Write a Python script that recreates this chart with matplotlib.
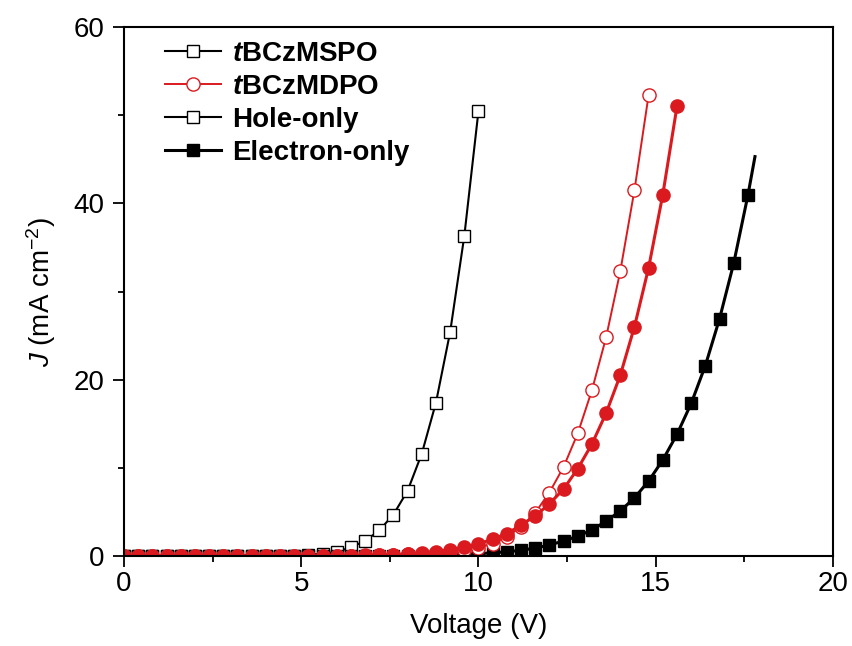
import numpy as np
import matplotlib.pyplot as plt
from matplotlib.lines import Line2D
from matplotlib.ticker import MultipleLocator

plt.rcParams['font.family'] = ['Liberation Sans', 'DejaVu Sans']
plt.rcParams['mathtext.fontset'] = 'custom'
plt.rcParams['mathtext.rm'] = 'Liberation Sans'
plt.rcParams['mathtext.it'] = 'Liberation Sans:italic'
plt.rcParams['mathtext.bf'] = 'Liberation Sans:italic:bold'

# voltage grid (V), markers every 0.4 V
volt = [0.0, 0.4, 0.8, 1.2, 1.6, 2.0, 2.4, 2.8, 3.2, 3.6, 4.0, 4.4, 4.8, 5.2, 5.6,
        6.0, 6.4, 6.8, 7.2, 7.6, 8.0, 8.4, 8.8, 9.2, 9.6, 10.0, 10.4, 10.8, 11.2,
        11.6, 12.0, 12.4, 12.8, 13.2, 13.6, 14.0, 14.4, 14.8, 15.2, 15.6, 16.0,
        16.4, 16.8, 17.2, 17.6, 17.8]

# tBCzMSPO hole-only (open black squares), 0 - 10.0 V
j_mspo_hole = [0, 0, 0, 0, 0, 0, 0, 0, 0.01, 0.01, 0.02, 0.03, 0.05, 0.12, 0.25,
               0.45, 1.0, 1.7, 2.9, 4.7, 7.4, 11.6, 17.4, 25.4, 36.3, 50.5]

# tBCzMSPO electron-only (filled black squares), 0 - 17.8 V
j_mspo_elec = [0, 0, 0, 0, 0, 0, 0, 0, 0, 0, 0, 0, 0, 0, 0.01,
               0.01, 0.02, 0.02, 0.03, 0.03, 0.04, 0.05, 0.08, 0.12, 0.18, 0.27,
               0.36, 0.48, 0.65, 0.9, 1.25, 1.7, 2.25, 2.95, 3.95, 5.1, 6.6,
               8.5, 10.9, 13.8, 17.3, 21.6, 26.9, 33.2, 40.9, 45.3]

# tBCzMDPO hole-only (open red circles), 0 - 14.8 V
j_mdpo_hole = [0, 0, 0, 0, 0, 0, 0, 0, 0, 0, 0, 0, 0.01, 0.01, 0.01,
               0.01, 0.02, 0.05, 0.08, 0.12, 0.18, 0.26, 0.37, 0.5, 0.7, 0.95,
               1.4, 2.2, 3.3, 4.9, 7.2, 10.1, 13.9, 18.8, 24.8, 32.3, 41.5, 52.3]

# tBCzMDPO electron-only (filled red circles), 0 - 15.6 V
j_mdpo_elec = [0, 0, 0, 0, 0, 0, 0, 0, 0, 0, 0, 0, 0.01, 0.01, 0.02,
               0.03, 0.05, 0.08, 0.12, 0.17, 0.23, 0.35, 0.5, 0.72, 1.0, 1.4,
               1.9, 2.55, 3.5, 4.55, 5.9, 7.6, 9.9, 12.7, 16.2, 20.5, 26.0,
               32.7, 41.0, 51.0]

red = '#da1a1f'

fig = plt.figure(figsize=(8.53, 6.46), dpi=100)
ax = fig.add_axes([0.1454, 0.1393, 0.8311, 0.8189])

n1 = len(j_mspo_hole)
ax.plot(volt[:n1], j_mspo_hole, color='k', lw=1.5, marker='s', ms=8,
        mfc='white', mec='k', mew=1.0)
n2 = len(j_mspo_elec)
ax.plot(volt[:n2], j_mspo_elec, color='k', lw=2.2, marker='s', ms=8,
        mfc='k', mec='k', markevery=list(range(n2 - 1)))
n3 = len(j_mdpo_hole)
ax.plot(volt[:n3], j_mdpo_hole, color=red, lw=1.4, marker='o', ms=9.5,
        mfc='white', mec=red, mew=1.0)
n4 = len(j_mdpo_elec)
ax.plot(volt[:n4], j_mdpo_elec, color=red, lw=2.2, marker='o', ms=9.5,
        mfc=red, mec=red)

ax.set_xlim(0, 20)
ax.set_ylim(0, 60)
ax.xaxis.set_major_locator(MultipleLocator(5))
ax.xaxis.set_minor_locator(MultipleLocator(2.5))
ax.yaxis.set_major_locator(MultipleLocator(20))
ax.yaxis.set_minor_locator(MultipleLocator(10))
ax.tick_params(which='both', direction='out', top=False, right=False, width=1.3)
ax.tick_params(which='major', length=8, labelsize=20)
ax.tick_params(axis='y', which='major', pad=6)
ax.tick_params(axis='x', which='major', pad=3)
ax.tick_params(which='minor', length=4.5)
for s in ax.spines.values():
    s.set_linewidth(1.5)

ax.set_xlabel('Voltage (V)', fontsize=20, labelpad=11)
ax.set_ylabel(r'$J$ (mA cm$^{-2}$)', fontsize=20, labelpad=11)

handles = [
    Line2D([], [], color='k', lw=1.5, marker='s', ms=8, mfc='white', mec='k'),
    Line2D([], [], color=red, lw=1.4, marker='o', ms=9.5, mfc='white', mec=red),
    Line2D([], [], color='k', lw=1.5, marker='s', ms=8, mfc='white', mec='k'),
    Line2D([], [], color='k', lw=2.2, marker='s', ms=8, mfc='k', mec='k'),
]
labels = [r'$\mathbf{t}$BCzMSPO', r'$\mathbf{t}$BCzMDPO', 'Hole-only', 'Electron-only']
ax.legend(handles, labels, loc='upper left', bbox_to_anchor=(0.058, 0.974),
          frameon=False, borderpad=0, borderaxespad=0, handlelength=2.0,
          handletextpad=0.4, labelspacing=0.25,
          prop={'size': 20, 'weight': 'bold'})

plt.savefig('out.png', dpi=100)
